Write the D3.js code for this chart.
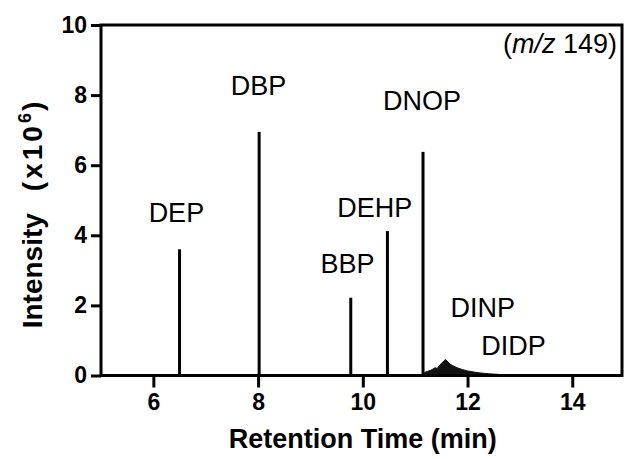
<!DOCTYPE html>
<html>
<head>
<meta charset="utf-8">
<script src="https://cdn.jsdelivr.net/npm/d3@7"></script>
<style>
  body { margin: 0; background: #fff; }
  svg { display: block; font-family: "Liberation Sans", Arial, sans-serif; }
</style>
</head>
<body>
<script>
// peaks (retention time, intensity x10^6)
const peakNames = ["DEP", "DBP", "BBP", "DEHP", "DNOP"]
const peakTimes = [6.5, 8.02, 9.77, 10.47, 11.15]
const peakHeights = [3.6, 6.95, 2.22, 4.12, 6.38]

// broad hump for DINP / DIDP
const humpTimes = [11.1, 11.2, 11.3, 11.38, 11.42, 11.47, 11.5, 11.55, 11.58, 11.63, 11.67, 11.72, 11.8, 11.9, 12.0, 12.2, 12.4, 12.7, 13.0]
const humpValues = [0, 0.1, 0.15, 0.22, 0.2, 0.3, 0.34, 0.42, 0.46, 0.38, 0.32, 0.28, 0.22, 0.17, 0.13, 0.08, 0.05, 0.02, 0]

// annotation labels (anchor in data units)
const labelNames = ["DEP", "DBP", "BBP", "DEHP", "DNOP", "DINP", "DIDP"]
const labelTimes = [6.44, 8.01, 9.71, 10.23, 11.13, 12.29, 12.88]
const labelValues = [4.38, 8.0, 2.92, 4.52, 7.57, 1.67, 0.58]

const xTicks = [6, 8, 10, 12, 14]
const yTicks = [0, 2, 4, 6, 8, 10]

const w = 625
const h = 459

const x = d3.scaleLinear().domain([5, 14.95]).range([101, 622])
const y = d3.scaleLinear().domain([0, 10]).range([375.5, 25])

const svg = d3.select("body").append("svg").attr("width", w).attr("height", h)

// hump
const humpData = humpTimes.map((t, i) => [t, humpValues[i]])
svg.append("path")
  .datum(humpData)
  .attr("d", d3.area().x(d => x(d[0])).y0(y(0)).y1(d => y(d[1])))
  .attr("fill", "#111")
  .attr("stroke", "#111")
  .attr("stroke-width", 1)

// peaks
svg.selectAll("line.peak")
  .data(peakTimes)
  .enter()
  .append("line")
  .attr("class", "peak")
  .attr("x1", d => x(d))
  .attr("x2", d => x(d))
  .attr("y1", y(0))
  .attr("y2", (d, i) => y(peakHeights[i]))
  .attr("stroke", "#000")
  .attr("stroke-width", 3)

// frame
svg.append("rect")
  .attr("x", x(5)).attr("y", y(10))
  .attr("width", x(14.95) - x(5)).attr("height", y(0) - y(10))
  .attr("fill", "none")
  .attr("stroke", "#000")
  .attr("stroke-width", 3)

// axes
const xAxis = svg.append("g")
  .attr("transform", "translate(0," + y(0) + ")")
  .call(d3.axisBottom(x).tickValues(xTicks).tickSize(12).tickPadding(6).tickFormat(d3.format("d")))
const yAxis = svg.append("g")
  .attr("transform", "translate(" + x(5) + ",0)")
  .call(d3.axisLeft(y).tickValues(yTicks).tickSize(10).tickPadding(4).tickFormat(d3.format("d")))

for (const g of [xAxis, yAxis]) {
  g.select(".domain").remove()
  g.selectAll(".tick line").attr("stroke", "#000").attr("stroke-width", 3)
  g.selectAll(".tick text")
    .attr("fill", "#000")
    .style("font-family", "Liberation Sans, Arial, sans-serif")
    .style("font-weight", "bold")
    .style("font-size", "23px")
}

// axis titles
svg.append("text")
  .attr("x", x(10))
  .attr("y", 448)
  .attr("text-anchor", "middle")
  .style("font-weight", "bold")
  .style("font-size", "27px")
  .text("Retention Time (min)")

const yt = svg.append("text")
  .attr("transform", "translate(42,215) rotate(-90)")
  .attr("text-anchor", "middle")
  .style("font-weight", "bold")
  .style("font-size", "28px")
yt.append("tspan").text("Intensity")
yt.append("tspan").attr("dx", 22).style("letter-spacing", "3px").text("(x10")
yt.append("tspan").attr("dy", -11).style("font-size", "18px").text("6")
yt.append("tspan").attr("dy", 11).attr("dx", 2).text(")")

// peak labels
svg.selectAll("text.lbl")
  .data(labelNames)
  .enter()
  .append("text")
  .attr("class", "lbl")
  .attr("x", (d, i) => x(labelTimes[i]))
  .attr("y", (d, i) => y(labelValues[i]))
  .attr("text-anchor", "middle")
  .style("font-size", "27px")
  .text(d => d)

// ion annotation
const mz = svg.append("text")
  .attr("x", 617)
  .attr("y", 53)
  .attr("text-anchor", "end")
  .style("font-size", "27px")
mz.append("tspan").text("(")
mz.append("tspan").style("font-style", "italic").text("m/z")
mz.append("tspan").text(" 149)")
</script>
</body>
</html>
